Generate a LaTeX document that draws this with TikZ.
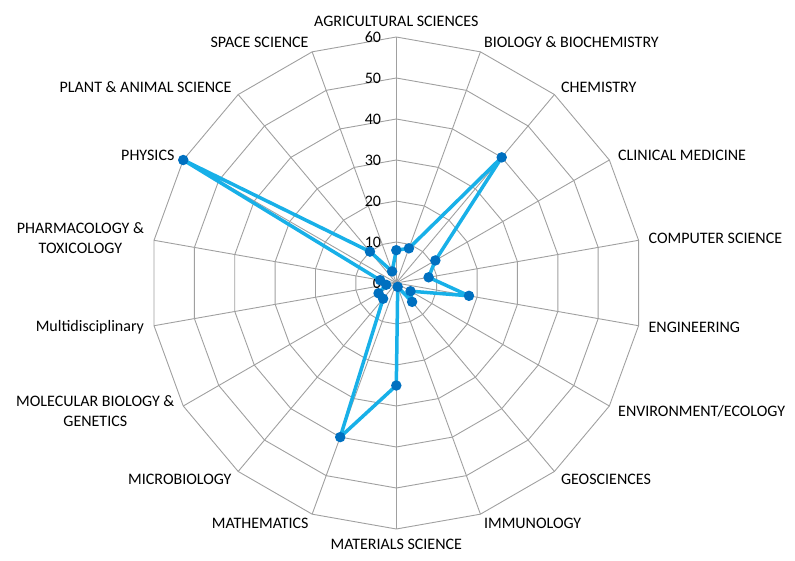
\documentclass[tikz,border=0pt]{standalone}
\usepackage{fontspec}
\setmainfont{Carlito}
\definecolor{gridgray}{RGB}{160,160,160}
\definecolor{lineblue}{RGB}{24,176,232}
\definecolor{dotblue}{RGB}{0,112,192}

\begin{document}
\begin{tikzpicture}[x=1pt, y=1pt, font=\fontsize{16}{20}\selectfont]
	\useasboundingbox (-396.3,-277) rectangle (398.7,283);
	\coordinate (center) at (0,0);
	
	\foreach \k in {1,...,6}
	\draw [gridgray, line width=0.9pt] (90:\k*41) \foreach \i in {1,...,17} { -- (90-\i*20:\k*41) } -- cycle;
	
	\foreach \i in {0,...,17}
	\coordinate (axis-\i) at (90-\i*20:246);
	
	\foreach \i in {0,...,17}
	\draw [gridgray, line width=0.9pt] (center) -- (axis-\i);
	
	\foreach \t [count=\k from 0] in {0,10,...,60}
	\node [anchor=east, inner sep=0] (tick-\k) at (-15,\k*41) {\t};
	
	\foreach \l/\a [count=\i from 0] in {{AGRICULTURAL SCIENCES}/south, {BIOLOGY \& BIOCHEMISTRY}/west, {CHEMISTRY}/west, {CLINICAL MEDICINE}/west, {COMPUTER SCIENCE}/west, {ENGINEERING}/west, {ENVIRONMENT/ECOLOGY}/west, {GEOSCIENCES}/west, {IMMUNOLOGY}/west, {MATERIALS SCIENCE}/north, {MATHEMATICS}/east, {MICROBIOLOGY}/east, {MOLECULAR BIOLOGY \&\\GENETICS}/east, {Multidisciplinary}/east, {PHARMACOLOGY \&\\TOXICOLOGY}/east, {PHYSICS}/east, {PLANT \& ANIMAL SCIENCE}/east, {SPACE SCIENCE}/east}
	\node [anchor=\a, inner sep=0, align=center] (label-\i) at (90-\i*20:256) {\l};
	
	\foreach \v [count=\i from 0] in {8,9,40,11,8,18,4,6,1,25,40,5,5,2.5,4,60,10,3}
	\coordinate (val-\i) at (90-\i*20:\v*4.1);
	
	\draw [lineblue, line width=3.5pt, line join=round] (val-0) \foreach \i in {1,...,17} { -- (val-\i) } -- cycle;
	
	\foreach \i in {0,...,17}
	\node [circle, fill=dotblue, inner sep=0, minimum size=10.5pt] (dot-\i) at (val-\i) {};
\end{tikzpicture}
\end{document}
